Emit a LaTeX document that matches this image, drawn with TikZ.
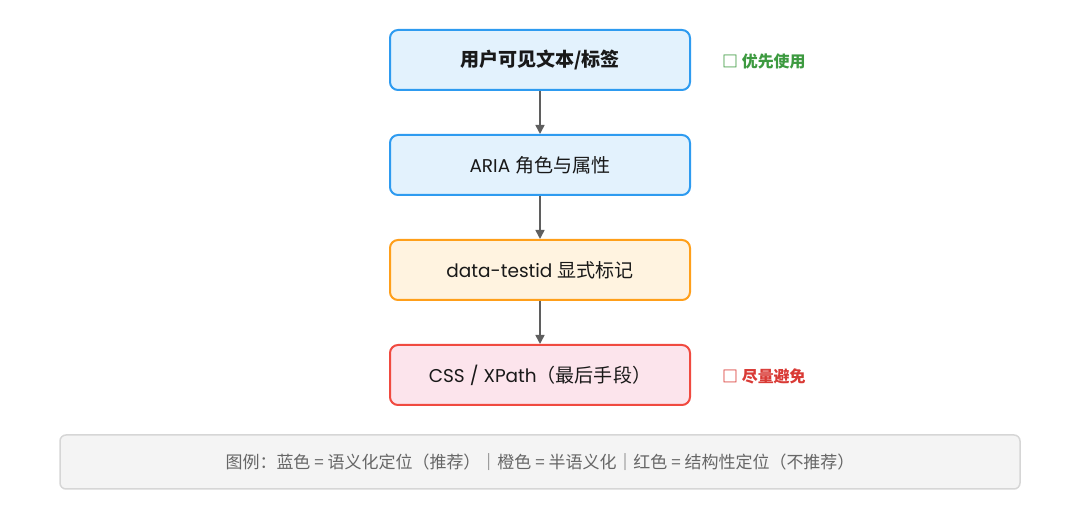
\documentclass[tikz,border=0pt]{standalone}
\usepackage{fontspec}
\setmainfont{Poppins}
\newfontfamily\cjk[Scale=1.03]{Noto Sans CJK SC}
\newfontfamily\lat{Poppins}
\usetikzlibrary{arrows.meta}
\definecolor{bluefill}{HTML}{E3F2FD}
\definecolor{blueline}{HTML}{2E9BF0}
\definecolor{orangefill}{HTML}{FFF3E0}
\definecolor{orangeline}{HTML}{FF9F1A}
\definecolor{redfill}{HTML}{FCE4EC}
\definecolor{redline}{HTML}{F04A40}
\definecolor{greentext}{HTML}{3D9A40}
\definecolor{redtext}{HTML}{D93A35}
\definecolor{legfill}{HTML}{F4F4F4}
\definecolor{legline}{HTML}{D6D6D6}
\definecolor{legtext}{HTML}{666666}
\definecolor{arrowc}{HTML}{5F5F5F}
\tikzset{
  stepbox/.style={rounded corners=8pt, line width=2pt, minimum width=300pt, minimum height=60pt, inner sep=0pt, font=\fontsize{18.5}{21}\selectfont, text=black!90},
  bluebox/.style={stepbox, fill=bluefill, draw=blueline},
  orangebox/.style={stepbox, fill=orangefill, draw=orangeline},
  redbox/.style={stepbox, fill=redfill, draw=redline},
  flow/.style={draw=arrowc, line width=1.6pt, -{Triangle[length=9pt,width=9pt]}},
  sidelabel/.style={anchor=west, inner sep=0pt, font=\cjk\fontsize{15.5}{18}\selectfont\bfseries},
  legendbox/.style={rounded corners=6pt, fill=legfill, draw=legline, line width=1.5pt, minimum width=960pt, minimum height=54pt, inner sep=0pt, text=legtext, font=\cjk\fontsize{16.5}{19}\selectfont}
}
\begin{document}
\begin{tikzpicture}[x=1pt,y=-1pt]
\useasboundingbox (0,0) rectangle (1080,510);
\node[bluebox] (n1) at (540,60) {\cjk\bfseries 用户可见文本/标签};
\node[bluebox] (n2) at (540,165) {{\lat ARIA} \cjk 角色与属性};
\node[orangebox] (n3) at (540,270) {{\lat data-testid} \cjk 显式标记};
\node[redbox] (n4) at (540,375) {{\lat CSS / XPath}\cjk（最后手段）};
\draw[flow] (n1.south) -- (n2.north);
\draw[flow] (n2.south) -- (n3.north);
\draw[flow] (n3.south) -- (n4.north);
\node[sidelabel, text=greentext] (s1) at (722,61) {□ 优先使用};
\node[sidelabel, text=redtext] (s2) at (722,376) {□ 尽量避免};
\node[legendbox] (lg) at (540,462) {图例：蓝色 = 语义化定位（推荐）｜橙色 = 半语义化｜红色 = 结构性定位（不推荐）};
\end{tikzpicture}
\end{document}
